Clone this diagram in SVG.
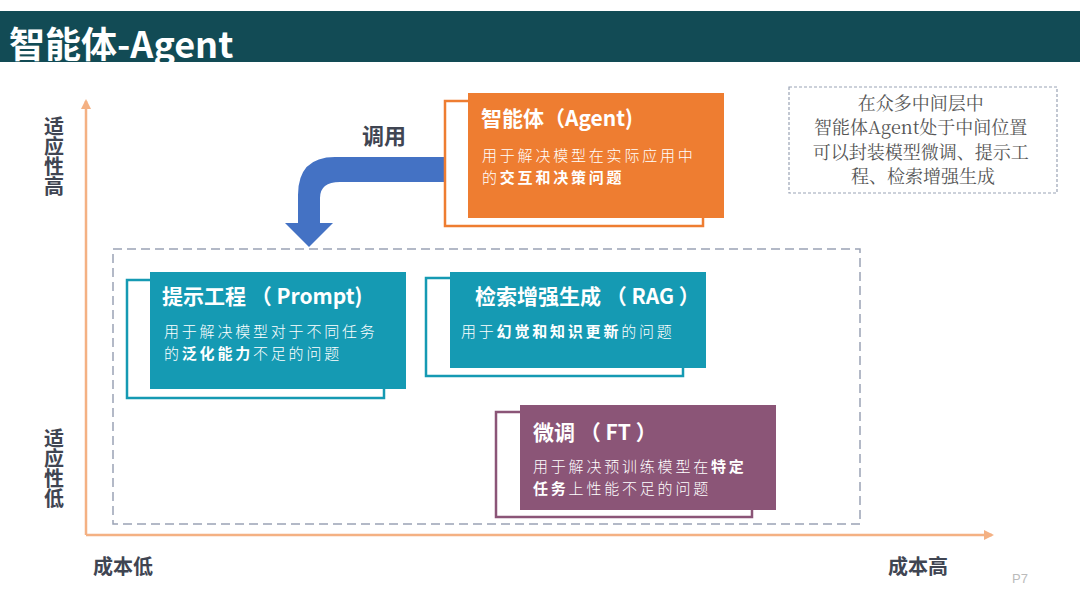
<svg xmlns="http://www.w3.org/2000/svg" width="1080" height="607" viewBox="0 0 1080 607">
<defs>
<style>
.t{font-family:"Noto Sans CJK SC","Noto Sans",sans-serif}
.ttl{font-weight:700;fill:#fff;font-size:21px}
.body{font-size:15px;fill:#fff;font-weight:300;letter-spacing:2.8px}
.b{font-weight:700}
.ax{font-weight:700;fill:#404552;font-size:20px}
.vert{writing-mode:vertical-rl;text-orientation:upright;letter-spacing:0px}
.serif{font-family:"Noto Serif CJK SC","Liberation Serif",serif}
</style>
<marker id="ah" viewBox="0 0 10 10" refX="8" refY="5" markerWidth="4" markerHeight="4" orient="auto"><path d="M0,0 L10,5 L0,10 z" fill="#F4B183"/></marker>
</defs>
<rect width="1080" height="607" fill="#fff"/>
<rect x="0" y="11" width="1080" height="51" fill="#124B55"/>
<text class="t" x="9" y="58" font-size="36" font-weight="700" fill="#fff">智能体-Agent</text>

<g id="connectors">
<line x1="86" y1="535" x2="86" y2="101" stroke="#F4B183" stroke-width="2.5" marker-end="url(#ah)"/>
<line x1="86" y1="535" x2="992" y2="535" stroke="#F4B183" stroke-width="2.5" marker-end="url(#ah)"/>
<path d="M445,157 L335,157 Q298,157 298,195 L298,223 L285,223 L309,247 L333,223 L320,223 L320,198 Q320,182 340,182 L445,182 Z" fill="#4472C4"/>
</g>
<text class="t" x="362" y="144" font-size="22" font-weight="700" fill="#404552">调用</text>

<g id="frame">
<rect x="113" y="249" width="747" height="275" fill="none" stroke="#9AA3B5" stroke-width="1.5" stroke-dasharray="9,5"/>
</g>

<g id="agent">
<rect x="445" y="101" width="258" height="125" fill="#fff" stroke="#EE7D31" stroke-width="2.5"/>
<rect x="468" y="93" width="256" height="125" fill="#EE7D31"/>
<text class="t ttl" x="481" y="126" font-size="23">智能体（Agent)</text>
<text class="t body" x="482" y="161">用于解决模型在实际应用中</text>
<text class="t body" x="482" y="183">的<tspan class="b">交互和决策问题</tspan></text>
</g>

<g id="note">
<rect x="789" y="87" width="268" height="106" fill="#fff" stroke="#9AA3B5" stroke-width="1.2" stroke-dasharray="3,2"/>
<text class="serif" font-size="18" fill="#555" text-anchor="middle">
<tspan x="923" y="110">在众多中间层中</tspan>
<tspan x="923" y="134">智能体Agent处于中间位置</tspan>
<tspan x="923" y="159">可以封装模型微调、提示工</tspan>
<tspan x="923" y="183">程、检索增强生成</tspan>
</text>
</g>

<g id="prompt">
<rect x="127" y="280" width="257" height="118" fill="#fff" stroke="#159AB3" stroke-width="2.5"/>
<rect x="150" y="272" width="256" height="117" fill="#159AB3"/>
<text class="t ttl" x="162" y="304" font-size="20.5">提示工程 （ Prompt)</text>
<text class="t body" x="164" y="337">用于解决模型对于不同任务</text>
<text class="t body" x="164" y="359">的<tspan class="b">泛化能力</tspan>不足的问题</text>
</g>

<g id="rag">
<rect x="426" y="278" width="257" height="98" fill="#fff" stroke="#159AB3" stroke-width="2.5"/>
<rect x="450" y="272" width="256" height="96" fill="#159AB3"/>
<text class="t ttl" x="475" y="304" font-size="20">检索增强生成 （ RAG ）</text>
<text class="t body" x="461" y="337">用于<tspan class="b">幻觉和知识更新</tspan>的问题</text>
</g>

<g id="ft">
<rect x="496" y="412" width="256" height="105" fill="#fff" stroke="#8B5577" stroke-width="2.5"/>
<rect x="520" y="405" width="256" height="105" fill="#8B5577"/>
<text class="t ttl" x="533" y="440" font-size="20.5">微调 （ FT ）</text>
<text class="t body" x="533" y="472">用于解决预训练模型在<tspan class="b">特定</tspan></text>
<text class="t body" x="533" y="494"><tspan class="b">任务</tspan>上性能不足的问题</text>
</g>

<g id="labels">
<text class="t ax vert" x="54" y="116">适应性高</text>
<text class="t ax vert" x="54" y="428">适应性低</text>
<text class="t ax" x="93" y="574">成本低</text>
<text class="t ax" x="888" y="574">成本高</text>
<text x="1012" y="583" font-family="Liberation Sans Narrow,Liberation Sans,sans-serif" font-size="13" fill="#bbb">P7</text>
</g>
</svg>
